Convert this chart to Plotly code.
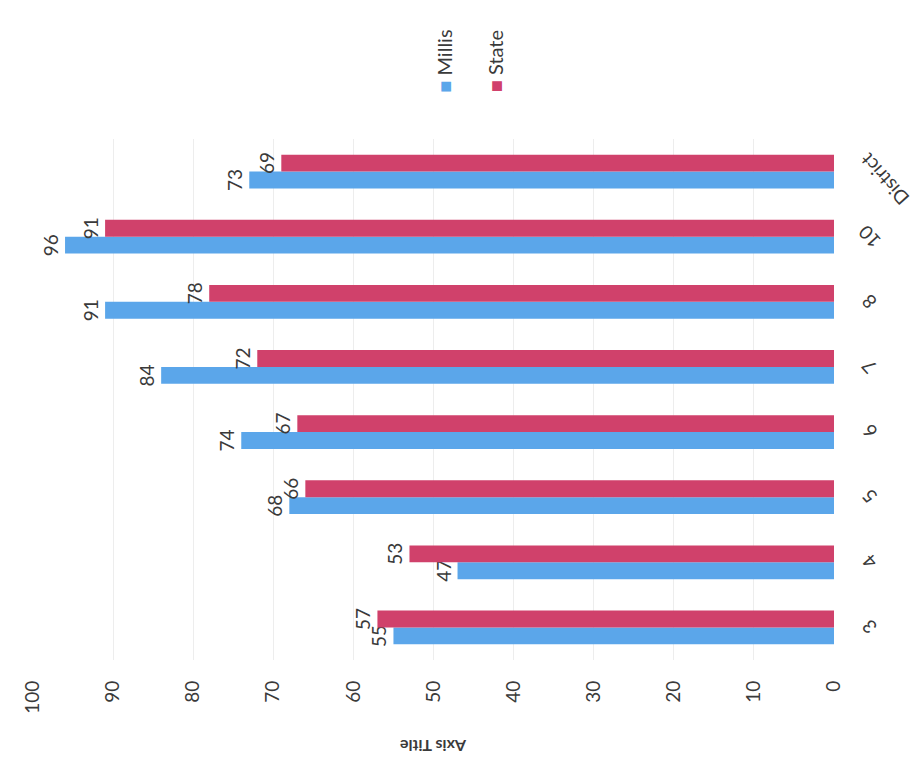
import plotly.graph_objects as go

categories = ["3", "4", "5", "6", "7", "8", "10", "District"]
millis = [55, 47, 68, 74, 84, 91, 96, 73]
state = [57, 53, 66, 67, 72, 78, 91, 69]
value_ticks = [0, 10, 20, 30, 40, 50, 60, 70, 80, 90, 100]

BLUE = "#5ba6ea"
RED = "#d0416b"
TXT = "#3a3a3a"
FONT = "Lato"

fig = go.Figure()
fig.add_trace(go.Bar(
    y=categories, x=millis, orientation="h", name="Millis",
    marker=dict(color=BLUE, line=dict(width=0)),
    text=[str(v) for v in millis], textposition="outside", textangle=-90,
    textfont=dict(size=19, color=TXT, family=FONT), cliponaxis=False,
    constraintext="none",
))
fig.add_trace(go.Bar(
    y=categories, x=state, orientation="h", name="State",
    marker=dict(color=RED, line=dict(width=0)),
    text=[str(v) for v in state], textposition="outside", textangle=-90,
    textfont=dict(size=19, color=TXT, family=FONT), cliponaxis=False,
    constraintext="none",
))

# category labels (rotated like the photographed page); y is the category index
cat_annotations = [
    dict(text=c, xref="paper", yref="y", x=(1.063 if c == "District" else 1.044),
         y=i, yshift=(-8 if c == "District" else 0),
         xanchor="center", yanchor="middle", textangle=-132, showarrow=False,
         font=dict(size=19, color=TXT, family=FONT))
    for i, c in enumerate(categories)
]

fig.update_layout(
    width=923, height=770,
    margin=dict(l=22, r=97, t=131, b=118),
    paper_bgcolor="white", plot_bgcolor="white",
    barmode="group", bargap=0.48, bargroupgap=0.0,
    showlegend=False,
    font=dict(family=FONT, color=TXT),
    xaxis=dict(
        range=[100, 0], tickvals=value_ticks, ticktext=[str(v) for v in value_ticks],
        tickangle=-90, tickfont=dict(size=19, color=TXT, family=FONT),
        showgrid=True, gridcolor="#ededed", gridwidth=1,
        zeroline=False, showline=False, ticks="", ticklabelstandoff=16,
    ),
    yaxis=dict(
        type="category", categoryorder="array", categoryarray=categories,
        range=[-0.5, len(categories) - 0.5],
        side="right", showticklabels=False,
        showgrid=False, zeroline=False, showline=False, ticks="",
    ),
    annotations=cat_annotations + [
        dict(text="<b>Axis Title</b>", xref="paper", yref="paper",
             x=0.5, y=-0.165, xanchor="center", yanchor="middle",
             textangle=180, showarrow=False,
             font=dict(size=16, color=TXT, family=FONT)),
        dict(text=f"<span style='color:{BLUE}'>■</span> Millis", xref="paper", yref="paper",
             x=0.513, y=1.15, xanchor="center", yanchor="middle",
             textangle=-90, showarrow=False,
             font=dict(size=20, color=TXT, family=FONT)),
        dict(text=f"<span style='color:{RED}'>■</span> State", xref="paper", yref="paper",
             x=0.576, y=1.15, xanchor="center", yanchor="middle",
             textangle=-90, showarrow=False,
             font=dict(size=20, color=TXT, family=FONT)),
    ],
)

fig.write_html("out.html")
